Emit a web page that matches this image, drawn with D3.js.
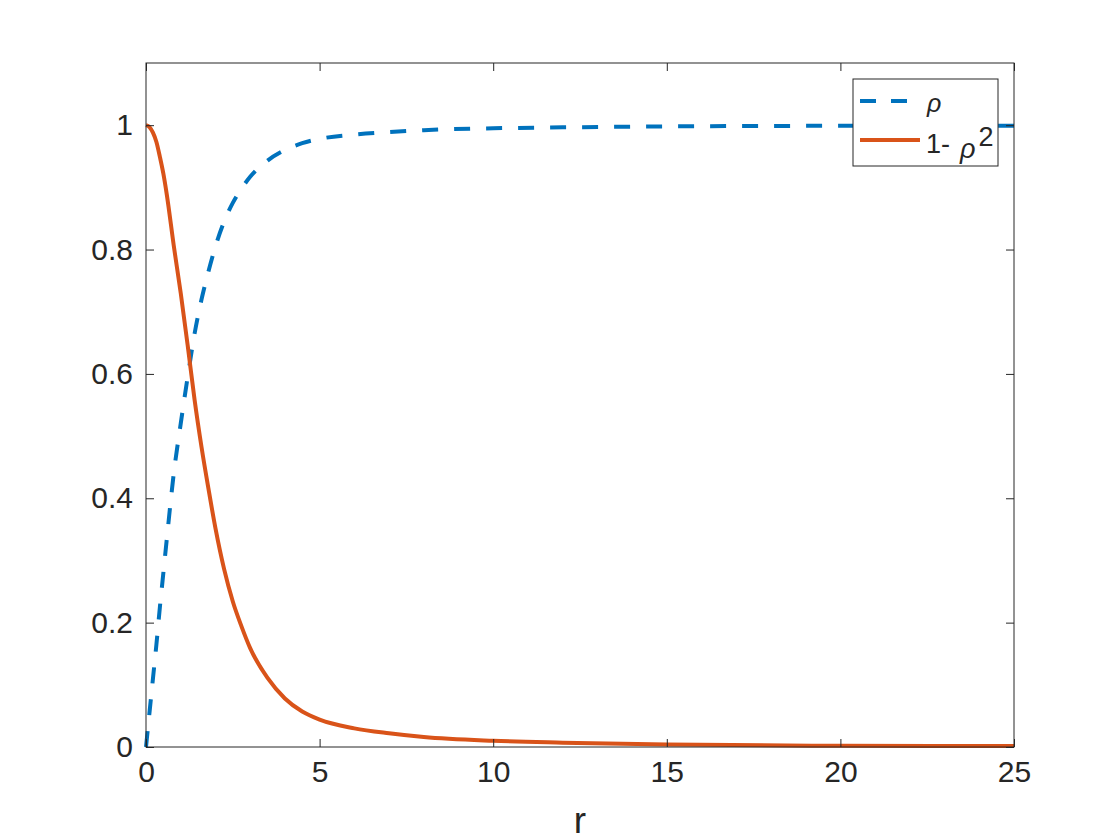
<!DOCTYPE html>
<html>
<head>
<meta charset="utf-8">
<script src="https://cdn.jsdelivr.net/npm/d3@7"></script>
<style>
  body { margin: 0; background: #fff; }
  svg { display: block; }
  text { font-family: "Liberation Sans", Arial, Helvetica, sans-serif; fill: #262626; }
</style>
</head>
<body>
<div id="chart"></div>
<script>
// values
var rValues = [0, 0.1, 0.2, 0.3, 0.4, 0.5, 0.6, 0.8, 1.0, 1.2, 1.4, 1.6, 1.8, 2.0, 2.25, 2.5, 2.75, 3.0, 3.5, 4, 4.5, 5, 6, 7, 8, 10, 12, 15, 20, 25];
var rhoValues = [0, 0.055, 0.11, 0.165, 0.225, 0.28, 0.335, 0.44, 0.52, 0.595, 0.665, 0.72, 0.765, 0.805, 0.845, 0.875, 0.898, 0.917, 0.943, 0.960, 0.971, 0.978, 0.985, 0.989, 0.992, 0.995, 0.9965, 0.998, 0.999, 0.9992];
var oneMinusRho2 = [1, 0.997, 0.988, 0.973, 0.949, 0.922, 0.888, 0.806, 0.730, 0.646, 0.558, 0.482, 0.415, 0.352, 0.286, 0.234, 0.194, 0.159, 0.111, 0.078, 0.057, 0.044, 0.030, 0.022, 0.016, 0.010, 0.007, 0.004, 0.002, 0.0016];
var xTicks = [0, 5, 10, 15, 20, 25];
var yTicks = [0, 0.2, 0.4, 0.6, 0.8, 1];

var width = 1120, height = 840;
var margin = {left: 146, right: 106, top: 63, bottom: 93};
var w = width - margin.left - margin.right;
var h = height - margin.top - margin.bottom;

var svg = d3.select("#chart")
    .append("svg")
    .attr("width", width)
    .attr("height", height)
    .append("g")
    .attr("transform", "translate(" + margin.left + "," + margin.top + ")");

var x = d3.scaleLinear().domain([0, 25]).range([0, w]);
var y = d3.scaleLinear().domain([0, 1.1]).range([h, 0]);

// curves
var line = d3.line()
    .x(function(d) { return x(d[0]); })
    .y(function(d) { return y(d[1]); })
    .curve(d3.curveMonotoneX);

var rhoData = rValues.map(function(r, i) { return [r, rhoValues[i]]; });
var redData = rValues.map(function(r, i) { return [r, oneMinusRho2[i]]; });

svg.append("path")
    .datum(rhoData)
    .attr("d", line)
    .attr("fill", "none")
    .attr("stroke", "#0072BD")
    .attr("stroke-width", 4)
    .attr("stroke-dasharray", "16,16");

svg.append("path")
    .datum(redData)
    .attr("d", line)
    .attr("fill", "none")
    .attr("stroke", "#D95319")
    .attr("stroke-width", 4);

// axes, ticks inside on all four sides
var tickLen = 8;
svg.append("g")
    .attr("class", "axis")
    .attr("transform", "translate(0," + h + ")")
    .call(d3.axisBottom(x).tickValues(xTicks).tickSize(-tickLen).tickPadding(14).tickFormat(d3.format("d")));
svg.append("g")
    .attr("class", "axis")
    .call(d3.axisTop(x).tickValues(xTicks).tickSize(-tickLen).tickFormat(""));
svg.append("g")
    .attr("class", "axis")
    .call(d3.axisLeft(y).tickValues(yTicks).tickSize(-tickLen).tickPadding(13).tickFormat(function(d) { return d === 0 || d === 1 ? d3.format("d")(d) : d3.format(".1f")(d); }));
svg.append("g")
    .attr("class", "axis")
    .attr("transform", "translate(" + w + ",0)")
    .call(d3.axisRight(y).tickValues(yTicks).tickSize(-tickLen).tickFormat(""));

svg.selectAll(".axis .domain").remove();
svg.selectAll(".axis line").attr("stroke", "#262626").attr("stroke-width", 1);
svg.selectAll(".axis text")
    .attr("font-size", "30px")
    .attr("font-family", "'Liberation Sans', Arial, sans-serif")
    .attr("fill", "#262626");

svg.append("rect")
    .attr("x", 0)
    .attr("y", 0)
    .attr("width", w)
    .attr("height", h)
    .attr("fill", "none")
    .attr("stroke", "#262626")
    .attr("stroke-width", 1);

// x label
svg.append("text")
    .attr("x", w / 2)
    .attr("y", h + 86)
    .attr("text-anchor", "middle")
    .attr("font-size", "37px")
    .text("r");

// legend
var legend = svg.append("g")
    .attr("transform", "translate(" + (853 - margin.left) + "," + (79 - margin.top) + ")");

legend.append("rect")
    .attr("width", 145)
    .attr("height", 87)
    .attr("fill", "#fff")
    .attr("stroke", "#262626")
    .attr("stroke-width", 1);

legend.append("line")
    .attr("x1", 7).attr("x2", 67)
    .attr("y1", 22).attr("y2", 22)
    .attr("stroke", "#0072BD")
    .attr("stroke-width", 4)
    .attr("stroke-dasharray", "16,15");

legend.append("line")
    .attr("x1", 7).attr("x2", 67)
    .attr("y1", 61).attr("y2", 61)
    .attr("stroke", "#D95319")
    .attr("stroke-width", 4);

legend.append("text")
    .attr("x", 74)
    .attr("y", 33)
    .attr("font-size", "25px")
    .attr("font-style", "italic")
    .text("ρ");

var t2 = legend.append("text")
    .attr("x", 73)
    .attr("y", 74)
    .attr("font-size", "27px");
t2.append("tspan").text("1-");
t2.append("tspan").attr("font-style", "italic").attr("dy", 5).attr("dx", 10).text("ρ");
t2.append("tspan").attr("dy", -12).attr("dx", 3).text("2");
</script>
</body>
</html>
